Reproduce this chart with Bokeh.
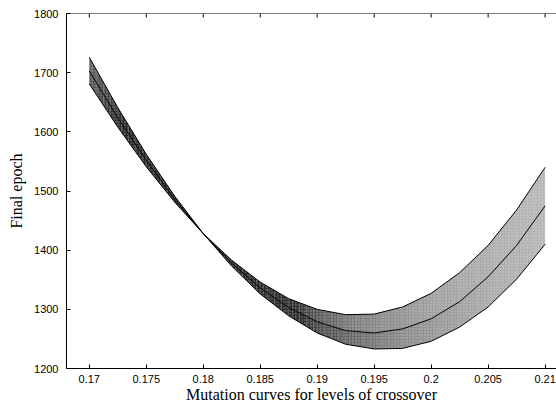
from bokeh.plotting import figure
from bokeh.models import FixedTicker, Span
from bokeh.embed import file_html
from bokeh.resources import INLINE

# mutation rate (x)
mutation = [0.17, 0.1725, 0.175, 0.1775, 0.18, 0.1825, 0.185, 0.1875, 0.19,
            0.1925, 0.195, 0.1975, 0.2, 0.2025, 0.205, 0.2075, 0.21]

# final epoch for the three crossover levels drawn solid
epoch_upper_right = [1681, 1608, 1541, 1481, 1428, 1383, 1346, 1318, 1300,
                     1291, 1292, 1304, 1327, 1362, 1408, 1468, 1540]
epoch_middle = [1703, 1624, 1552, 1486, 1428, 1378, 1336, 1303, 1279,
                1264, 1260, 1267, 1284, 1313, 1355, 1408, 1475]
epoch_lower_right = [1726, 1641, 1562, 1491, 1428, 1373, 1326, 1289, 1260,
                     1241, 1233, 1234, 1246, 1270, 1304, 1351, 1410]

x_ticks = [0.17, 0.175, 0.18, 0.185, 0.19, 0.195, 0.2, 0.205, 0.21]
x_tick_labels = ["0.17", "0.175", "0.18", "0.185", "0.19", "0.195", "0.2", "0.205", "0.21"]
y_ticks = [1200, 1300, 1400, 1500, 1600, 1700, 1800]

p = figure(width=556, height=405, x_range=(0.168, 0.211), y_range=(1200, 1800),
           output_backend="svg", toolbar_location=None,
           min_border_left=66, min_border_right=0, min_border_top=13, min_border_bottom=37)
p.grid.visible = False
p.outline_line_color = None
p.background_fill_color = "white"
p.border_fill_color = "white"

# shaded bands between the curves; the tone follows how tightly the
# intermediate (dotted) curves are packed, i.e. the band width on screen
px_per_unit = 355.0 / 600.0
SUB = 8
def band(a, b):
    xs, ys, alphas = [], [], []
    for i in range(len(mutation) - 1):
        for s in range(SUB):
            t0, t1 = s / SUB, (s + 1) / SUB
            x0 = mutation[i] + t0 * (mutation[i + 1] - mutation[i])
            x1 = mutation[i] + t1 * (mutation[i + 1] - mutation[i])
            a0 = a[i] + t0 * (a[i + 1] - a[i]); a1 = a[i] + t1 * (a[i + 1] - a[i])
            b0 = b[i] + t0 * (b[i + 1] - b[i]); b1 = b[i] + t1 * (b[i + 1] - b[i])
            xs.append([x0, x1, x1, x0])
            ys.append([a0, a1, b1, b0])
            w = (abs(a0 - b0) + abs(a1 - b1)) / 2 * px_per_unit
            alphas.append(min(0.95, 0.12 + 8.0 / max(w, 1.0)))
    return xs, ys, alphas

for a, b in [(epoch_upper_right, epoch_middle), (epoch_middle, epoch_lower_right)]:
    xs, ys, al = band(a, b)
    p.patches(xs, ys, fill_color="#202020", fill_alpha=al, line_color=None,
              hatch_pattern="dot", hatch_color="white", hatch_alpha=0.4, hatch_scale=3)

for ys in [epoch_upper_right, epoch_middle, epoch_lower_right]:
    p.line(mutation, ys, line_color="black", line_width=1)

# top border with mirrored inward ticks
p.add_layout(Span(location=y_ticks[-1], dimension="width", line_color="black", line_width=1))
p.ray(x=x_ticks, y=[y_ticks[-1]] * len(x_ticks), length=4, length_units="screen",
      angle=-90, angle_units="deg", line_color="black", line_width=1)

def style_axis(ax):
    ax.major_tick_in = 4
    ax.major_tick_out = 0
    ax.minor_tick_line_color = None
    ax.axis_line_color = "black"
    ax.major_tick_line_color = "black"
    ax.major_label_text_font = "Liberation Sans"
    ax.major_label_text_font_size = "11px"
    ax.major_label_text_color = "black"
    ax.axis_label_text_font = "Liberation Serif"
    ax.axis_label_text_font_style = "normal"
    ax.axis_label_text_font_size = "16px"
    ax.axis_label_text_color = "black"

p.xaxis.ticker = FixedTicker(ticks=x_ticks)
p.xaxis.major_label_overrides = {t: s for t, s in zip(x_ticks, x_tick_labels)}
p.yaxis.ticker = FixedTicker(ticks=y_ticks)
style_axis(p.xaxis[0])
style_axis(p.yaxis[0])
p.xaxis.axis_label = "Mutation curves for levels of crossover"
p.yaxis.axis_label = "Final epoch"
p.xaxis.major_label_standoff = 6
p.xaxis.axis_label_standoff = 0
p.yaxis.major_label_standoff = 8
p.yaxis.axis_label_standoff = 6

open("out.html", "w").write(file_html(p, INLINE))
